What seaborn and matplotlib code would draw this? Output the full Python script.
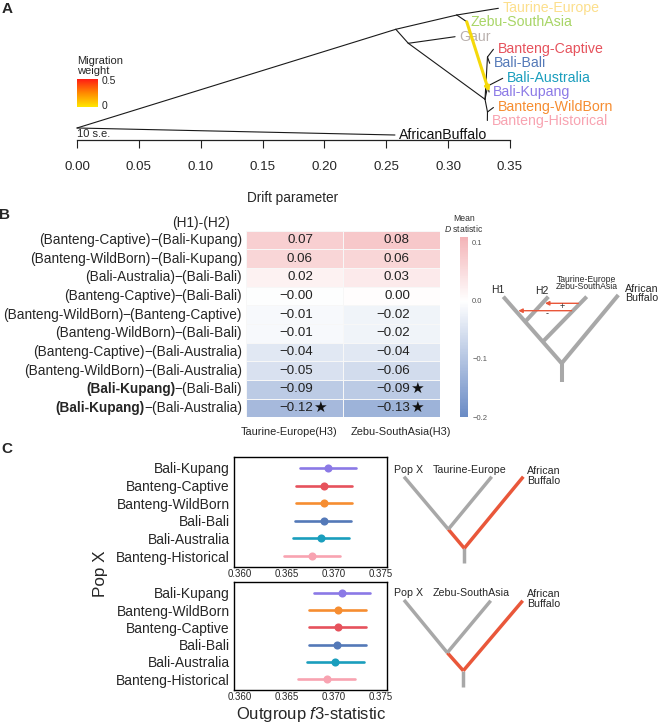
import numpy as np
import pandas as pd
import seaborn as sns
import matplotlib.pyplot as plt
from matplotlib.colors import LinearSegmentedColormap

# ---------------- A: treemix tree ----------------
node_names = ["root", "n1", "n_tz", "n_g", "n_b", "n_cb", "n_ak", "n_wh",
              "AfricanBuffalo", "Taurine-Europe", "Zebu-SouthAsia", "Gaur",
              "Banteng-Captive", "Bali-Bali", "Bali-Australia", "Bali-Kupang",
              "Banteng-WildBorn", "Banteng-Historical"]
node_drift = [0.0, 0.2577, 0.3070, 0.2678, 0.3298, 0.3318, 0.3320, 0.3318,
              0.2570, 0.3406, 0.3150, 0.3056,
              0.3366, 0.3336, 0.3441, 0.3331, 0.3366, 0.3317]
node_pos = [128, 29.3, 15, 43.3, 99.3, 57, 86, 112,
            135, 8.3, 21.7, 36.7, 49.3, 63.3, 78.3, 92, 107.5, 120.5]
tree_edges = [("root", "n1"), ("root", "AfricanBuffalo"),
              ("n1", "n_tz"), ("n_tz", "Taurine-Europe"), ("n_tz", "Zebu-SouthAsia"),
              ("n1", "n_g"), ("n_g", "Gaur"), ("n_g", "n_b"),
              ("n_b", "n_cb"), ("n_cb", "Banteng-Captive"), ("n_cb", "Bali-Bali"),
              ("n_b", "n_ak"), ("n_ak", "Bali-Australia"), ("n_ak", "Bali-Kupang"),
              ("n_b", "n_wh"), ("n_wh", "Banteng-WildBorn"), ("n_wh", "Banteng-Historical")]
migration_edge = ("Zebu-SouthAsia", "Bali-Kupang")
drift_ticks = [0.00, 0.05, 0.10, 0.15, 0.20, 0.25, 0.30, 0.35]

pop_colors = {
    "AfricanBuffalo": "#111111", "Taurine-Europe": "#fcdf8c", "Zebu-SouthAsia": "#a8d566",
    "Gaur": "#b9b0ad", "Banteng-Captive": "#e6525c", "Bali-Bali": "#5479b8",
    "Bali-Australia": "#1a9ebd", "Bali-Kupang": "#8b79e6", "Banteng-WildBorn": "#f68d31",
    "Banteng-Historical": "#f8a3b1",
}

# ---------------- B: D statistics ----------------
h1_pops = ["Banteng-Captive", "Banteng-WildBorn", "Bali-Australia", "Banteng-Captive",
           "Banteng-WildBorn", "Banteng-WildBorn", "Banteng-Captive", "Banteng-WildBorn",
           "Bali-Kupang", "Bali-Kupang"]
h2_pops = ["Bali-Kupang", "Bali-Kupang", "Bali-Bali", "Bali-Bali", "Banteng-Captive",
           "Bali-Bali", "Bali-Australia", "Bali-Australia", "Bali-Bali", "Bali-Australia"]
h3_labels = ["Taurine-Europe(H3)", "Zebu-SouthAsia(H3)"]
d_taurine = [0.07, 0.06, 0.02, -0.003, -0.01, -0.01, -0.04, -0.05, -0.09, -0.12]
d_zebu = [0.08, 0.06, 0.03, 0.003, -0.02, -0.02, -0.04, -0.06, -0.09, -0.13]
star_taurine = [False, False, False, False, False, False, False, False, False, True]
star_zebu = [False, False, False, False, False, False, False, False, True, True]

# ---------------- C: outgroup f3 ----------------
pops_taurine = ["Bali-Kupang", "Banteng-Captive", "Banteng-WildBorn", "Bali-Bali",
                "Bali-Australia", "Banteng-Historical"]
f3_taurine = [0.3694, 0.3690, 0.3690, 0.3690, 0.3687, 0.3677]
f3_taurine_lo = [0.3664, 0.3660, 0.3660, 0.3659, 0.3657, 0.3647]
f3_taurine_hi = [0.3724, 0.3720, 0.3720, 0.3719, 0.3717, 0.3707]
pops_zebu = ["Bali-Kupang", "Banteng-WildBorn", "Banteng-Captive", "Bali-Bali",
             "Bali-Australia", "Banteng-Historical"]
f3_zebu = [0.3709, 0.3705, 0.3705, 0.3704, 0.3702, 0.3693]
f3_zebu_lo = [0.3679, 0.3674, 0.3674, 0.3674, 0.3672, 0.3662]
f3_zebu_hi = [0.3739, 0.3735, 0.3735, 0.3735, 0.3733, 0.3723]
f3_ticks = [0.360, 0.365, 0.370, 0.375]

sns.set_style("white")
plt.rcParams["font.family"] = ["Liberation Sans", "DejaVu Sans"]
plt.rcParams["mathtext.fontset"] = "custom"
plt.rcParams["mathtext.rm"] = "Liberation Sans"
plt.rcParams["mathtext.it"] = "Liberation Sans:italic"
plt.rcParams["mathtext.bf"] = "Liberation Sans:bold"

W, H = 659, 724
fig = plt.figure(figsize=(W / 100, H / 100), dpi=100)


def box(x0, y0, x1, y1):
    return [x0 / W, 1 - y1 / H, (x1 - x0) / W, (y1 - y0) / H]


# overlay in pixel coordinates for free text and schematic trees
ax_ov = fig.add_axes([0, 0, 1, 1])
ax_ov.set_xlim(0, W)
ax_ov.set_ylim(H, 0)
ax_ov.axis("off")

# ---------------- panel A ----------------
ax_a = fig.add_axes(box(77, 0, 510, 140))
ax_a.set_xlim(0, 0.35)
ax_a.set_ylim(140, 0)
ax_a.set_facecolor("none")
pos = {n: (d, y) for n, d, y in zip(node_names, node_drift, node_pos)}
for p, c in tree_edges:
    ax_a.plot([pos[p][0], pos[c][0]], [pos[p][1], pos[c][1]],
              color="#1a1a1a", lw=0.8, clip_on=False)
for name, col in pop_colors.items():
    ax_a.annotate(name, xy=pos[name], xytext=(3, 0), textcoords="offset points",
                  ha="left", va="center", fontsize=10.2, color=col)
src, dst = migration_edge
ax_a.annotate("", xy=pos[dst], xytext=pos[src],
              arrowprops=dict(arrowstyle="-|>", color="#f5d90a", lw=2.2,
                              mutation_scale=6, shrinkA=0, shrinkB=0))
for s in ["top", "left", "right"]:
    ax_a.spines[s].set_visible(False)
ax_a.spines["bottom"].set_color("#222222")
ax_a.spines["bottom"].set_linewidth(0.9)
ax_a.set_xticks(drift_ticks)
ax_a.set_xticklabels([f"{t:.2f}" for t in drift_ticks])
ax_a.set_yticks([])
ax_a.tick_params(axis="x", direction="out", length=6, width=0.8, pad=9,
                 labelsize=9.6, color="#222222", bottom=True)
ax_ov.text(293, 198, "Drift parameter", ha="center", va="center", fontsize=9.8)
ax_ov.text(77, 134, "10 s.e.", ha="left", va="center", fontsize=8)

heat = LinearSegmentedColormap.from_list("heat", ["#ffe600", "#ff8a00", "#ff1e14"])
ax_g = fig.add_axes(box(77, 79, 98, 107))
ax_g.imshow(np.linspace(1, 0, 60).reshape(-1, 1), aspect="auto", cmap=heat)
ax_g.axis("off")
ax_ov.text(77, 66, "Migration\nweight", ha="left", va="center", fontsize=8, linespacing=0.95)
ax_ov.text(102, 81, "0.5", ha="left", va="center", fontsize=7.5)
ax_ov.text(102, 106, "0", ha="left", va="center", fontsize=7.5)

# ---------------- panel B ----------------
d_cmap = LinearSegmentedColormap.from_list("dstat", ["#6a8bc5", "#ffffff", "#ea767c"])
mat = pd.DataFrame({h3_labels[0]: d_taurine, h3_labels[1]: d_zebu})
ax_b = fig.add_axes(box(246, 230.7, 440, 417.3))
cax = fig.add_axes(box(460, 237, 468, 417))
sns.heatmap(mat, ax=ax_b, cbar_ax=cax, cmap=d_cmap, vmin=-0.2, vmax=0.11, center=0,
            linewidths=0.5, linecolor="#f7f7f7", xticklabels=h3_labels, yticklabels=False,
            cbar_kws={"ticks": [0.1, 0.0, -0.1, -0.2]})
ax_b.set_xticks([0.44, 1.6])
ax_b.set_xticklabels(h3_labels)
ax_b.tick_params(axis="x", length=0, pad=7, labelsize=7.9, rotation=0)
cax.set_yticklabels(["0.1", "0.0", "\u22120.1", "\u22120.2"])
cax.tick_params(labelsize=5.5, length=0, pad=3, labelcolor="#555555")
ax_ov.text(464, 224, "Mean\n$D$ statistic", ha="center", va="center", fontsize=6.2,
           color="#333333", linespacing=0.9)

for j, (vals, stars) in enumerate([(d_taurine, star_taurine), (d_zebu, star_zebu)]):
    for i, (v, st) in enumerate(zip(vals, stars)):
        ax_b.text(j + 0.69, i + 0.5, f"{v:.2f}".replace("-", "\u2212"),
                  ha="right", va="center", fontsize=9.6, color="#222222")
        if st:
            ax_b.text(j + 0.69, i + 0.5, "\u2605", ha="left", va="center",
                      fontsize=11, color="#111111")

right_parts = []
for i, h2 in enumerate(h2_pops):
    t = ax_b.text(-0.04, i + 0.5, f"\u2212({h2})", ha="right", va="center",
                  fontsize=9.8, clip_on=False)
    right_parts.append(t)
fig.canvas.draw()
renderer = fig.canvas.get_renderer()
for i, (h1, t) in enumerate(zip(h1_pops, right_parts)):
    x0 = t.get_window_extent(renderer).x0 + 0.8
    xd = ax_b.transData.inverted().transform((x0, 0))[0]
    ax_b.text(xd, i + 0.5, f"({h1})", ha="right", va="center", fontsize=9.8,
              fontweight="bold" if h1 == "Bali-Kupang" else "normal", clip_on=False)
ax_ov.text(230, 223, "(H1)-(H2)", ha="right", va="center", fontsize=9.8)

# schematic tree for D statistic
gray, red = "#a8a8a8", "#e9573a"
b_tree = [((561.7, 381.7), (561.7, 363.3)), ((561.7, 363.3), (503.3, 296.7)),
          ((561.7, 363.3), (618.3, 295.0)), ((542.8, 341.7), (586.7, 296.7)),
          ((525.2, 321.7), (548.3, 296.7))]
for (xa, ya), (xb, yb) in b_tree:
    ax_ov.plot([xa, xb], [ya, yb], color=gray, lw=2.9, solid_capstyle="butt")
ax_ov.annotate("", xy=(545, 303.3), xytext=(578.3, 303.3),
               arrowprops=dict(arrowstyle="-|>", color=red, lw=1, mutation_scale=6,
                               shrinkA=0, shrinkB=0))
ax_ov.annotate("", xy=(518.3, 310.7), xytext=(571.7, 310.7),
               arrowprops=dict(arrowstyle="-|>", color=red, lw=1, mutation_scale=6,
                               shrinkA=0, shrinkB=0))
ax_ov.text(561.7, 306.5, "+", ha="center", va="center", fontsize=6.5)
ax_ov.text(546.7, 313.5, "-", ha="center", va="center", fontsize=6.5)
ax_ov.text(498.3, 290, "H1", ha="center", va="center", fontsize=7.5)
ax_ov.text(541.7, 291, "H2", ha="center", va="center", fontsize=7.5)
ax_ov.text(586.7, 283, "Taurine-Europe\nZebu-SouthAsia", ha="center", va="center",
           fontsize=6.2, linespacing=0.85)
ax_ov.text(625, 293.5, "African\nBuffalo", ha="left", va="center", fontsize=7.7,
           linespacing=0.95)

# ---------------- panel C ----------------
def f3_frame(pops, mid, lo, hi):
    return pd.DataFrame({
        "pop": list(pops) * 3,
        "f3": list(lo) + list(mid) + list(hi),
    })


panels = [
    (box(234, 457, 387, 567), pops_taurine, f3_frame(pops_taurine, f3_taurine, f3_taurine_lo, f3_taurine_hi)),
    (box(234, 582, 387, 690), pops_zebu, f3_frame(pops_zebu, f3_zebu, f3_zebu_lo, f3_zebu_hi)),
]
for rect, pops, df in panels:
    ax = fig.add_axes(rect)
    sns.pointplot(data=df, x="f3", y="pop", hue="pop", order=pops, hue_order=pops,
                  palette=pop_colors, estimator="median", errorbar=("pi", 100),
                  markers="o", markersize=3.8, linestyle="none",
                  err_kws={"linewidth": 1.9}, legend=False, ax=ax)
    ax.set_xlim(0.3594, 0.3757)
    ax.set_ylim(5.62, -0.62)
    ax.set_xticks(f3_ticks)
    ax.set_xticklabels([f"{t:.3f}" for t in f3_ticks])
    ax.set_xlabel("")
    ax.set_ylabel("")
    for s in ax.spines.values():
        s.set_visible(True)
        s.set_color("black")
        s.set_linewidth(1)
    ax.tick_params(axis="y", length=0, pad=3, labelsize=10)
    ax.tick_params(axis="x", length=0, pad=1.5, labelsize=7)

ax_ov.text(100, 574, "Pop X", rotation=90, ha="center", va="center", fontsize=12.3)
ax_ov.text(311, 714, r"Outgroup $\mathit{f3}$-statistic", ha="center", va="center",
           fontsize=12)

c_trees = [
    ([((464.3, 562.7), (464.3, 548.3), gray), ((464.3, 548.3), (523.3, 476.7), red),
      ((464.3, 548.3), (448.3, 529.3), red), ((448.3, 529.3), (404.0, 476.7), gray),
      ((448.3, 529.3), (491.7, 476.7), gray)],
     [(408.3, 470, "Pop X", "center"), (469.7, 470, "Taurine-Europe", "center"),
      (527.3, 476, "African\nBuffalo", "left")]),
    ([((463.3, 686.7), (463.3, 670.7), gray), ((463.3, 670.7), (522.7, 600.7), red),
      ((463.3, 670.7), (447.3, 652.7), red), ((447.3, 652.7), (404.0, 600.0), gray),
      ((447.3, 652.7), (490.7, 600.7), gray)],
     [(408.3, 593.3, "Pop X", "center"), (470.8, 593.3, "Zebu-SouthAsia", "center"),
      (527.3, 599, "African\nBuffalo", "left")]),
]
for segs, labels in c_trees:
    for (xa, ya), (xb, yb), col in segs:
        ax_ov.plot([xa, xb], [ya, yb], color=col, lw=2.5, solid_capstyle="butt")
    for x, y, s, ha in labels:
        ax_ov.text(x, y, s, ha=ha, va="center", fontsize=7.7, linespacing=0.95)

# panel letters
for x, y, s in [(7, 9, "A"), (5, 215, "B"), (7, 449, "C")]:
    ax_ov.text(x, y, s, ha="center", va="center", fontsize=11, fontweight="bold")

fig.savefig("out.png", dpi=100)
